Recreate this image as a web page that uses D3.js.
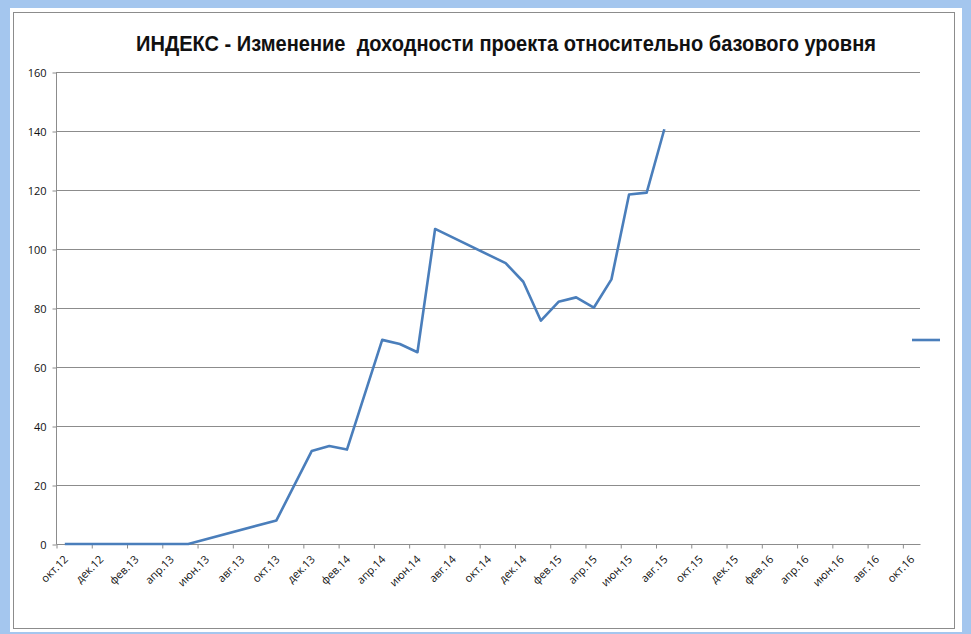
<!DOCTYPE html>
<html><head><meta charset="utf-8">
<script src="https://cdn.jsdelivr.net/npm/d3@7"></script>
<style>body{margin:0;background:#a4c6ee;} svg{display:block;}</style>
</head><body>
<svg id="c" width="971" height="634"></svg>
<script>
const title = "ИНДЕКС - Изменение  доходности проекта относительно базового уровня";
const monthNames = ["янв","фев","мар","апр","май","июн","июл","авг","сен","окт","ноя","дек"];
const startYear = 2012, startMonth = 9; // окт.12
const monthCount = 49; // окт.12 .. окт.16
const yTicks = [0,20,40,60,80,100,120,140,160];
const pointDates = ["2012-10","2012-11","2012-12","2013-01","2013-02","2013-03","2013-04","2013-05","2013-10","2013-12","2014-01","2014-02","2014-04","2014-05","2014-06","2014-07","2014-11","2014-12","2015-01","2015-02","2015-03","2015-04","2015-05","2015-06","2015-07","2015-08"];
const pointValues = [0,0,0,0,0,0,0,0,8,31.5,33.2,32,69.2,67.8,65,106.8,95.2,88.9,75.7,82.1,83.6,80.1,89.7,118.5,119.1,140.6];

const svg = d3.select("#c");
svg.append("rect").attr("x",10).attr("y",8).attr("width",952).attr("height",624).attr("fill","#fff");
svg.append("rect").attr("x",13.5).attr("y",12.5).attr("width",941).attr("height",616).attr("fill","none").attr("stroke","#8c8c8c").attr("stroke-width",1);

const x = d3.scaleLinear().domain([0, monthCount]).range([56, 920]);
const y = d3.scaleLinear().domain([0, 160]).range([544, 72]);

const monthIdx = s => { const [yy,mm] = s.split("-").map(Number); return (yy-startYear)*12 + (mm-1-startMonth); };
const pts = pointDates.map((d,i)=>({i:monthIdx(d), v:pointValues[i]}));

// gridlines
svg.append("g").selectAll("line").data(yTicks.filter(t=>t>0)).join("line")
  .attr("x1",56).attr("x2",920).attr("y1",d=>Math.round(y(d))+0.5).attr("y2",d=>Math.round(y(d))+0.5)
  .attr("stroke","#8c8c8c").attr("stroke-width",1);

// y axis
const ya = svg.append("g").attr("transform","translate(56.5,0.5)")
  .call(d3.axisLeft(y).tickValues(yTicks).tickSize(4).tickPadding(6));
ya.selectAll("path,line").attr("stroke","#8c8c8c");
ya.selectAll("text").attr("font-family","'Open Sans', 'Liberation Sans', sans-serif").attr("font-size",11).attr("fill","#111");
ya.select(".domain").attr("d","M0,"+y(160)+"V"+y(0));

// x axis
const xTickVals = d3.range(0, monthCount, 2);
const xa = svg.append("g").attr("transform","translate(0.5,"+(Math.round(y(0))+0.5)+")")
  .call(d3.axisBottom(x).tickValues(xTickVals).tickSize(4).tickFormat(""));
xa.selectAll("path,line").attr("stroke","#8c8c8c");
xa.select(".domain").attr("d","M"+x(0)+",0H"+x(monthCount));

const labelOf = i => { const m = (startMonth + i) % 12; const yy = startYear + Math.floor((startMonth+i)/12); return monthNames[m] + "." + String(yy).slice(2); };
svg.append("g").selectAll("text").data(xTickVals).join("text")
  .attr("transform", d=>"translate("+(x(d+0.5)+4)+","+(y(0)+16)+") rotate(-45)")
  .attr("text-anchor","end")
  .attr("font-family","'Open Sans', 'Liberation Sans', sans-serif").attr("font-size",11).attr("fill","#111")
  .text(labelOf);

// line
const line = d3.line().x(d=>x(d.i+0.5)).y(d=>y(d.v));
svg.append("path").datum(pts).attr("d",line).attr("fill","none")
  .attr("stroke","#4a7ebb").attr("stroke-width",2.6).attr("stroke-linejoin","round");

// legend key (series without name)
svg.append("line").attr("x1",912).attr("x2",940).attr("y1",340).attr("y2",340)
  .attr("stroke","#4a7ebb").attr("stroke-width",2.6);

// title
svg.append("text").attr("x",506).attr("y",51).attr("text-anchor","middle")
  .attr("font-family","'Liberation Sans Narrow', 'Liberation Sans', Arial, sans-serif").attr("font-weight","bold").attr("font-size",22)
  .attr("fill","#111").attr("textLength",740).attr("lengthAdjust","spacingAndGlyphs")
  .style("white-space","pre").text(title);
</script>
</body></html>
